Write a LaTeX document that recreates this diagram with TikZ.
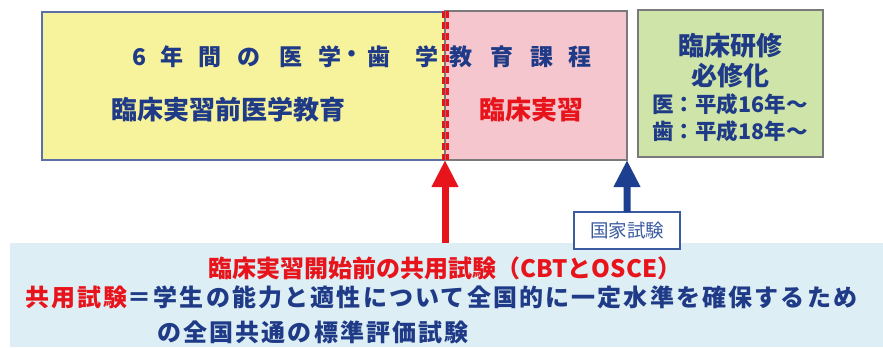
\documentclass[tikz,border=0pt]{standalone}
\usepackage{fontspec}
\newfontfamily\jp{Noto Sans CJK JP}
\newfontfamily\jpsp[LetterSpace=9]{Noto Sans CJK JP}
\usetikzlibrary{arrows.meta}
\definecolor{ylw}{HTML}{F7F29C}
\definecolor{ylwline}{HTML}{5D6FA6}
\definecolor{pnk}{HTML}{F6C6CE}
\definecolor{grn}{HTML}{CFE4A9}
\definecolor{boxgray}{HTML}{7A7A7A}
\definecolor{lblue}{HTML}{DDEFF5}
\definecolor{dblue}{HTML}{1F3A86}
\definecolor{rd}{HTML}{E8141C}
\definecolor{ablue}{HTML}{1D3F8F}
\definecolor{kblue}{HTML}{3A5BA0}
\begin{document}
\begin{tikzpicture}[x=1bp,y=-1bp,
  panel/.style={draw, line width=1.3bp, inner sep=0pt, outer sep=0pt, anchor=north west},
  hd/.style={font=\jp\bfseries\fontsize{23bp}{26bp}\selectfont, text=dblue, inner sep=0pt},
  big/.style={font=\jp\bfseries\fontsize{26bp}{30bp}\selectfont, inner sep=0pt},
  small/.style={font=\jp\bfseries\fontsize{21.5bp}{24bp}\selectfont, text=dblue, inner sep=0pt},
  upar/.style={line width=7bp, -{Triangle[width=25bp,length=27bp]}},
]
\useasboundingbox (0,0) rectangle (883,347);
% light blue band
\node[fill=lblue, inner sep=0pt, outer sep=0pt, anchor=north west, minimum width=873bp, minimum height=104bp] (band) at (10,243) {};
% boxes
\node[panel, draw=ylwline, fill=ylw, minimum width=403bp, minimum height=148bp] (Y) at (42,12) {};
\node[panel, draw=boxgray, fill=pnk, minimum width=182bp, minimum height=149bp] (P) at (445,11) {};
\node[panel, draw=boxgray, fill=grn, minimum width=185bp, minimum height=147bp] (G) at (638,10) {};
% heading
\foreach \c/\x [count=\i] in {6/140,年/172,間/210,の/249,医/291,学/330,・/352,歯/379,学/427,教/461,育/502,課/542,程/580}
  \node[hd] (h\i) at (\x,57) {\c};
% dashed divider
\draw[boxgray, line width=1.2bp] (P.north west) -- (P.south west);
\draw[rd, line width=7bp, dash pattern=on 7bp off 4bp] (P.north west) -- (P.south west);
\draw[boxgray, line width=0.8bp] (P.north west) -- (P.south west);
\node[big, text=dblue] (pre) at (228,110) {臨床実習前医学教育};
\node[big, text=rd] (cl) at (531,110) {臨床実習};
% green box text
\node[big, text=dblue] (g1) at (730,46) {臨床研修};
\node[big, text=dblue] (g2) at (730,76) {必修化};
\node[small] (g3) at (730,104) {医：平成16年～};
\node[small] (g4) at (730,131) {歯：平成18年～};
% national exam box
\node[draw=kblue, line width=1.2bp, fill=white, minimum width=106bp, minimum height=37bp, inner sep=0pt, outer sep=0pt, font=\jp\fontsize{18.5bp}{21bp}\selectfont, text=kblue] (K) at (627,230.5) {国家試験};
% arrows
\coordinate (rs) at (P.south west |- band.north);
\draw[upar, rd] (rs) -- (P.south west);
\draw[upar, ablue] (K.north) -- (P.south east);
% bottom text
\node[font=\jp\bfseries\fontsize{24bp}{28bp}\selectfont, text=rd, inner sep=0pt] (b1) at (445,268) {臨床実習開始前の共用試験（CBTとOSCE）};
\node[font=\jpsp\bfseries\fontsize{24bp}{28bp}\selectfont, text=dblue, inner sep=0pt, anchor=west] (b2) at (25,297) {\textcolor{rd}{共用試験}＝学生の能力と適性について全国的に一定水準を確保するため};
\node[font=\jpsp\bfseries\fontsize{24bp}{28bp}\selectfont, text=dblue, inner sep=0pt, anchor=west] (b3) at (157,332) {の全国共通の標準評価試験};
\end{tikzpicture}
\end{document}
